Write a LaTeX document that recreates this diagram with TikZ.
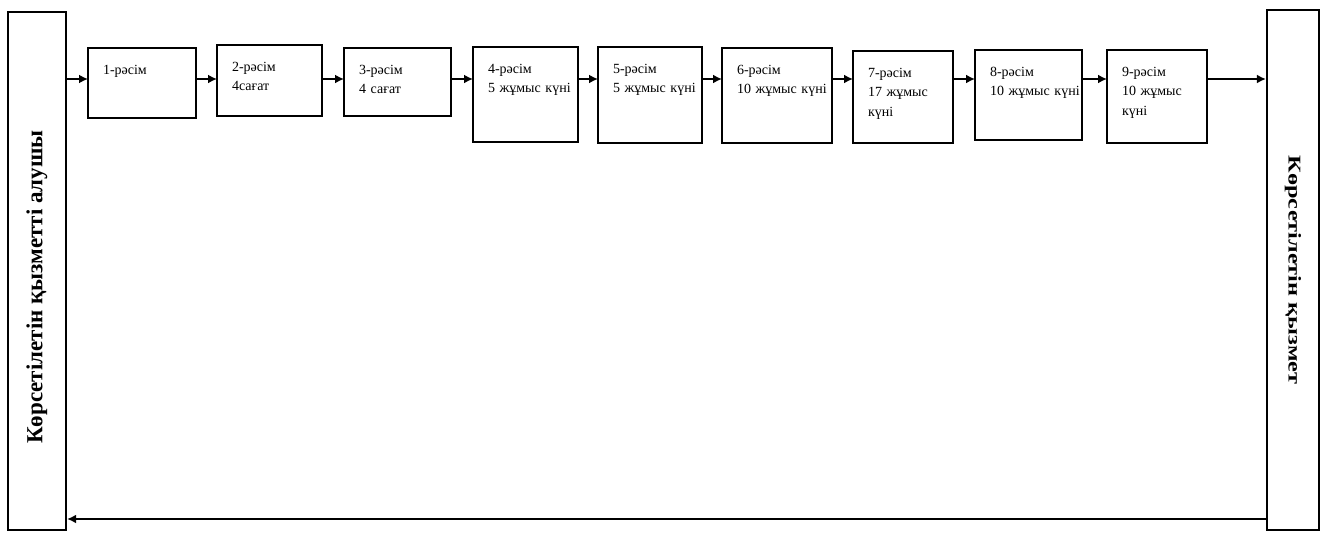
\documentclass[tikz,border=0pt]{standalone}
\usepackage{fontspec}
\setmainfont{Liberation Serif}
\usepackage{graphicx}
\usepackage{tikz}
\usetikzlibrary{positioning,arrows.meta}

\begin{document}
\begin{tikzpicture}[x=1pt, y=-1pt,
    rasim/.style 2 args = {draw=black, line width=2.9pt, rectangle,
        inner sep=0pt, outer sep=0pt, align=left, text width=#1,
        text height=26pt, text depth=#2, anchor=north west,
        font=\fontsize{14}{19.5}\selectfont,
        execute at begin node={\leftskip=15pt}},
    side/.style = {draw=black, line width=2.2pt, rectangle, inner sep=0pt},
    arr/.style = {line width=2.8pt, -{Latex[length=9pt,width=9pt]}}]
  \useasboundingbox (0,0) rectangle (1324,533);
  % side boxes
  \node[side, minimum width=58pt, minimum height=518pt,
      font=\fontsize{23}{25}\selectfont\bfseries] (client) at (37,271)
      {\rotatebox{90}{Көрсетілетін қызметті алушы\hspace*{32pt}}};
  \node[side, minimum width=52pt, minimum height=520pt,
      font=\fontsize{18}{20}\selectfont\bfseries] (service) at (1293,270)
      {\rotatebox{-90}{\scalebox{1.35}[1]{Көрсетілетін қызмет}}};
  % steps
  \node[rasim={108pt}{44pt}] (n1) at (88,48) {1-рәсім};
  \node[rasim={105pt}{45pt}, right = 21pt of n1.north east, anchor=north west,
      yshift=3pt] (n2) {2-рәсім\\4сағат};
  \node[rasim={107pt}{42pt}, right = 22pt of n2.north east, anchor=north west,
      yshift=-3pt] (n3) {3-рәсім\\4 сағат};
  \node[rasim={105pt}{69pt}, right = 22pt of n3.north east, anchor=north west,
      yshift=1pt] (n4) {4-рәсім\\5 жұмыс күні};
  \node[rasim={104pt}{70pt}, right = 20pt of n4.north east, anchor=north west]
      (n5) {5-рәсім\\5 жұмыс күні};
  \node[rasim={110pt}{69pt}, right = 20pt of n5.north east, anchor=north west,
      yshift=-1pt] (n6) {6-рәсім\\10 жұмыс күні};
  \node[rasim={100pt}{66pt}, right = 21pt of n6.north east, anchor=north west,
      yshift=-3pt] (n7) {7-рәсім\\17 жұмыс\\күні};
  \node[rasim={107pt}{64pt}, right = 22pt of n7.north east, anchor=north west,
      yshift=1pt] (n8) {8-рәсім\\10 жұмыс күні};
  \node[rasim={100pt}{67pt}, right = 25pt of n8.north east, anchor=north west]
      (n9) {9-рәсім\\10 жұмыс\\күні};
  % arrows
  \coordinate (row) at (0,79);
  \coordinate (back) at (0,519);
  \draw[arr] (client.east |- row) -- (n1.west |- row);
  \foreach \a/\b in {n1/n2, n2/n3, n3/n4, n4/n5, n5/n6, n6/n7, n7/n8, n8/n9}
    \draw[arr] (\a.east |- row) -- (\b.west |- row);
  \draw[arr] (n9.east |- row) -- (service.west |- row);
  \draw[arr] (service.west |- back) -- (client.east |- back);
\end{tikzpicture}
\end{document}
